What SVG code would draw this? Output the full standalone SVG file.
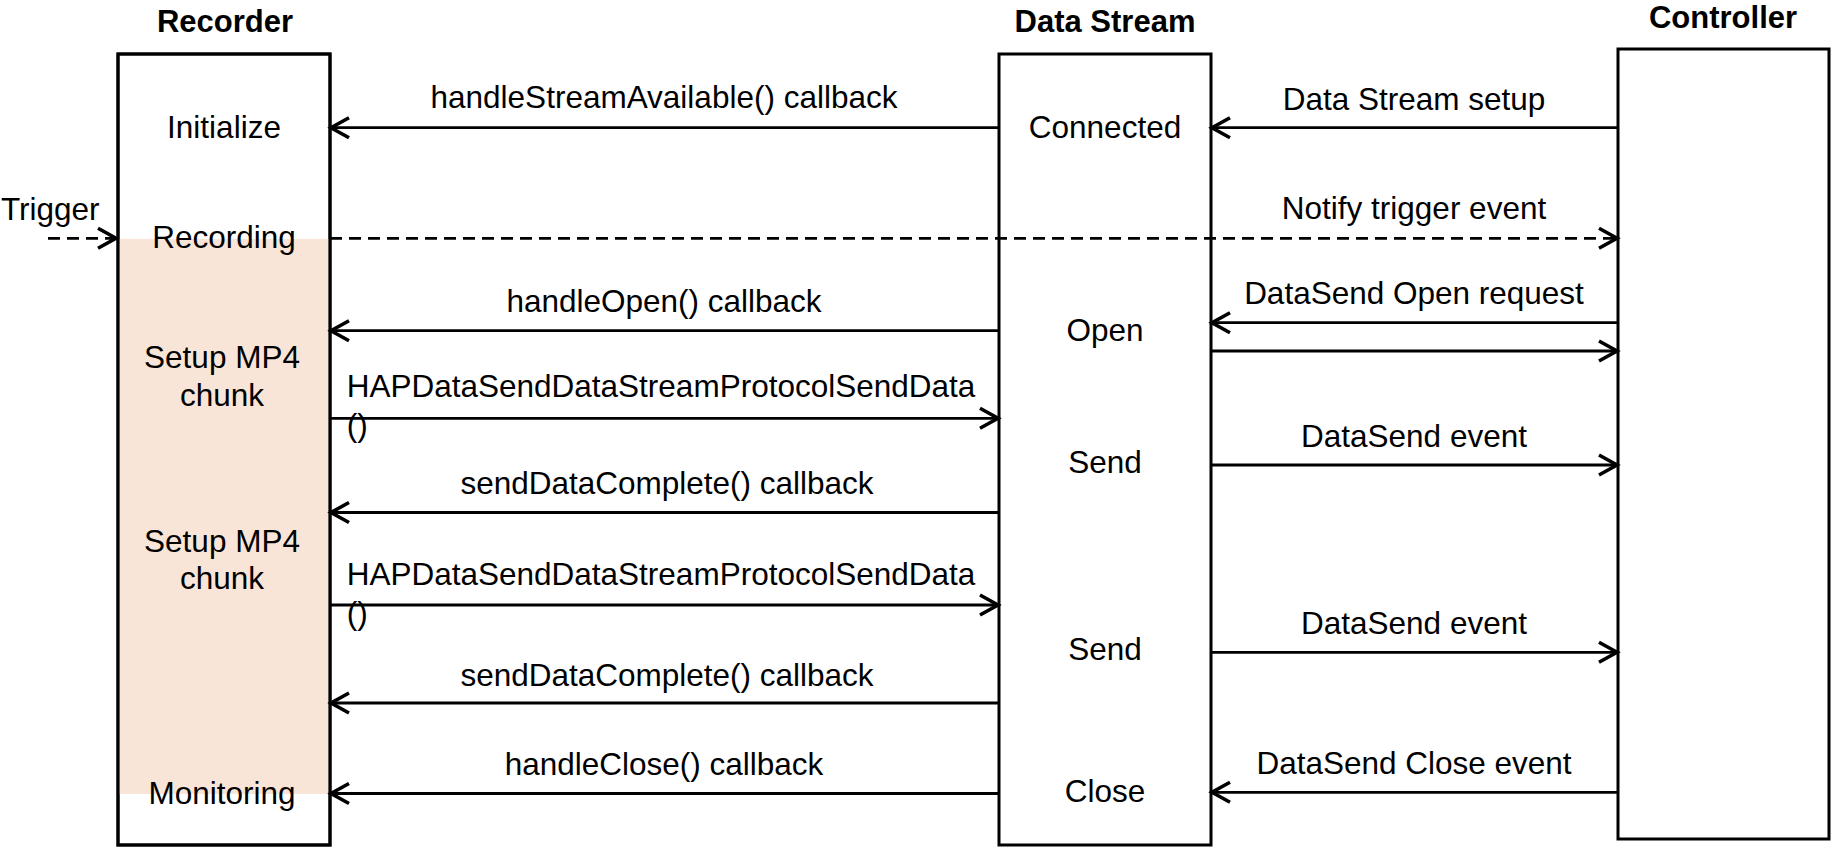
<svg xmlns="http://www.w3.org/2000/svg" width="1836" height="858" viewBox="0 0 1836 858">
<style>
text{font-family:"Liberation Sans",Arial,Helvetica,sans-serif;font-size:31.5px;fill:#000}
.t{font-weight:bold;text-anchor:middle;font-size:31px}
.c{text-anchor:middle}
.s{text-anchor:start}
.box{fill:#fff;stroke:#000;stroke-width:3}
.ln{stroke:#000;stroke-width:2.8;fill:none;marker-end:url(#arr)}
.d{stroke-dasharray:12 7}
</style>
<defs>
<marker id="arr" markerUnits="userSpaceOnUse" markerWidth="28" markerHeight="28" viewBox="-24 -14 28 28" refX="0" refY="0" orient="auto">
<path d="M-18,-10 L0,0 L-18,10" fill="none" stroke="#000" stroke-width="3.6" stroke-linejoin="miter"/>
</marker>
</defs>
<rect width="1836" height="858" fill="#fff"/>
<g id="recorder">
<rect class="box" x="118" y="54" width="212" height="791"/>
<rect x="119.5" y="239" width="209" height="555" fill="#F9E5D7"/>
<rect x="118" y="54" width="212" height="791" fill="none" stroke="#000" stroke-width="3"/>
<text class="t" x="225" y="32">Recorder</text>
<text class="c" x="224" y="138">Initialize</text>
<text class="c" x="224" y="248">Recording</text>
<text class="c" x="222" y="368">Setup MP4</text>
<text class="c" x="222" y="406">chunk</text>
<text class="c" x="222" y="552">Setup MP4</text>
<text class="c" x="222" y="589">chunk</text>
<text class="c" x="222" y="804">Monitoring</text>
</g>
<g id="datastream">
<rect class="box" x="999" y="54" width="212" height="791"/>
<text class="t" x="1105" y="32">Data Stream</text>
<text class="c" x="1105" y="138">Connected</text>
<text class="c" x="1105" y="341">Open</text>
<text class="c" x="1105" y="473">Send</text>
<text class="c" x="1105" y="660">Send</text>
<text class="c" x="1105" y="802">Close</text>
</g>
<g id="controller">
<rect class="box" x="1618" y="49" width="211" height="790"/>
<text class="t" x="1723" y="28">Controller</text>
</g>
<g id="connectors">
<line class="ln" x1="999" y1="127.7" x2="331" y2="127.7"/>
<line class="ln" x1="1618" y1="127.7" x2="1212" y2="127.7"/>
<line class="ln d" x1="48" y1="238.3" x2="116" y2="238.3"/>
<line class="ln d" x1="330" y1="238.3" x2="1617" y2="238.3"/>
<line class="ln" x1="999" y1="330.7" x2="331" y2="330.7"/>
<line class="ln" x1="1618" y1="322.7" x2="1212" y2="322.7"/>
<line class="ln" x1="1211" y1="351" x2="1617" y2="351"/>
<line class="ln" x1="330" y1="418.3" x2="998" y2="418.3"/>
<line class="ln" x1="1211" y1="465" x2="1617" y2="465"/>
<line class="ln" x1="999" y1="512.5" x2="331" y2="512.5"/>
<line class="ln" x1="330" y1="605" x2="998" y2="605"/>
<line class="ln" x1="1211" y1="652.3" x2="1617" y2="652.3"/>
<line class="ln" x1="999" y1="703" x2="331" y2="703"/>
<line class="ln" x1="999" y1="793.5" x2="331" y2="793.5"/>
<line class="ln" x1="1618" y1="792.3" x2="1212" y2="792.3"/>
</g>
<g id="labels">
<text class="c" x="664" y="108">handleStreamAvailable() callback</text>
<text class="c" x="1414" y="110">Data Stream setup</text>
<text class="s" x="1" y="220">Trigger</text>
<text class="c" x="1414" y="219">Notify trigger event</text>
<text class="c" x="664" y="312">handleOpen() callback</text>
<text class="c" x="1414" y="304">DataSend Open request</text>
<text class="s" x="346.7" y="397">HAPDataSendDataStreamProtocolSendData</text>
<text class="s" x="346.7" y="436">()</text>
<text class="c" x="1414" y="447">DataSend event</text>
<text class="c" x="667" y="494">sendDataComplete() callback</text>
<text class="s" x="346.7" y="585">HAPDataSendDataStreamProtocolSendData</text>
<text class="s" x="346.7" y="624">()</text>
<text class="c" x="1414" y="634">DataSend event</text>
<text class="c" x="667" y="686">sendDataComplete() callback</text>
<text class="c" x="664" y="775">handleClose() callback</text>
<text class="c" x="1414" y="774">DataSend Close event</text>
</g>
</svg>
